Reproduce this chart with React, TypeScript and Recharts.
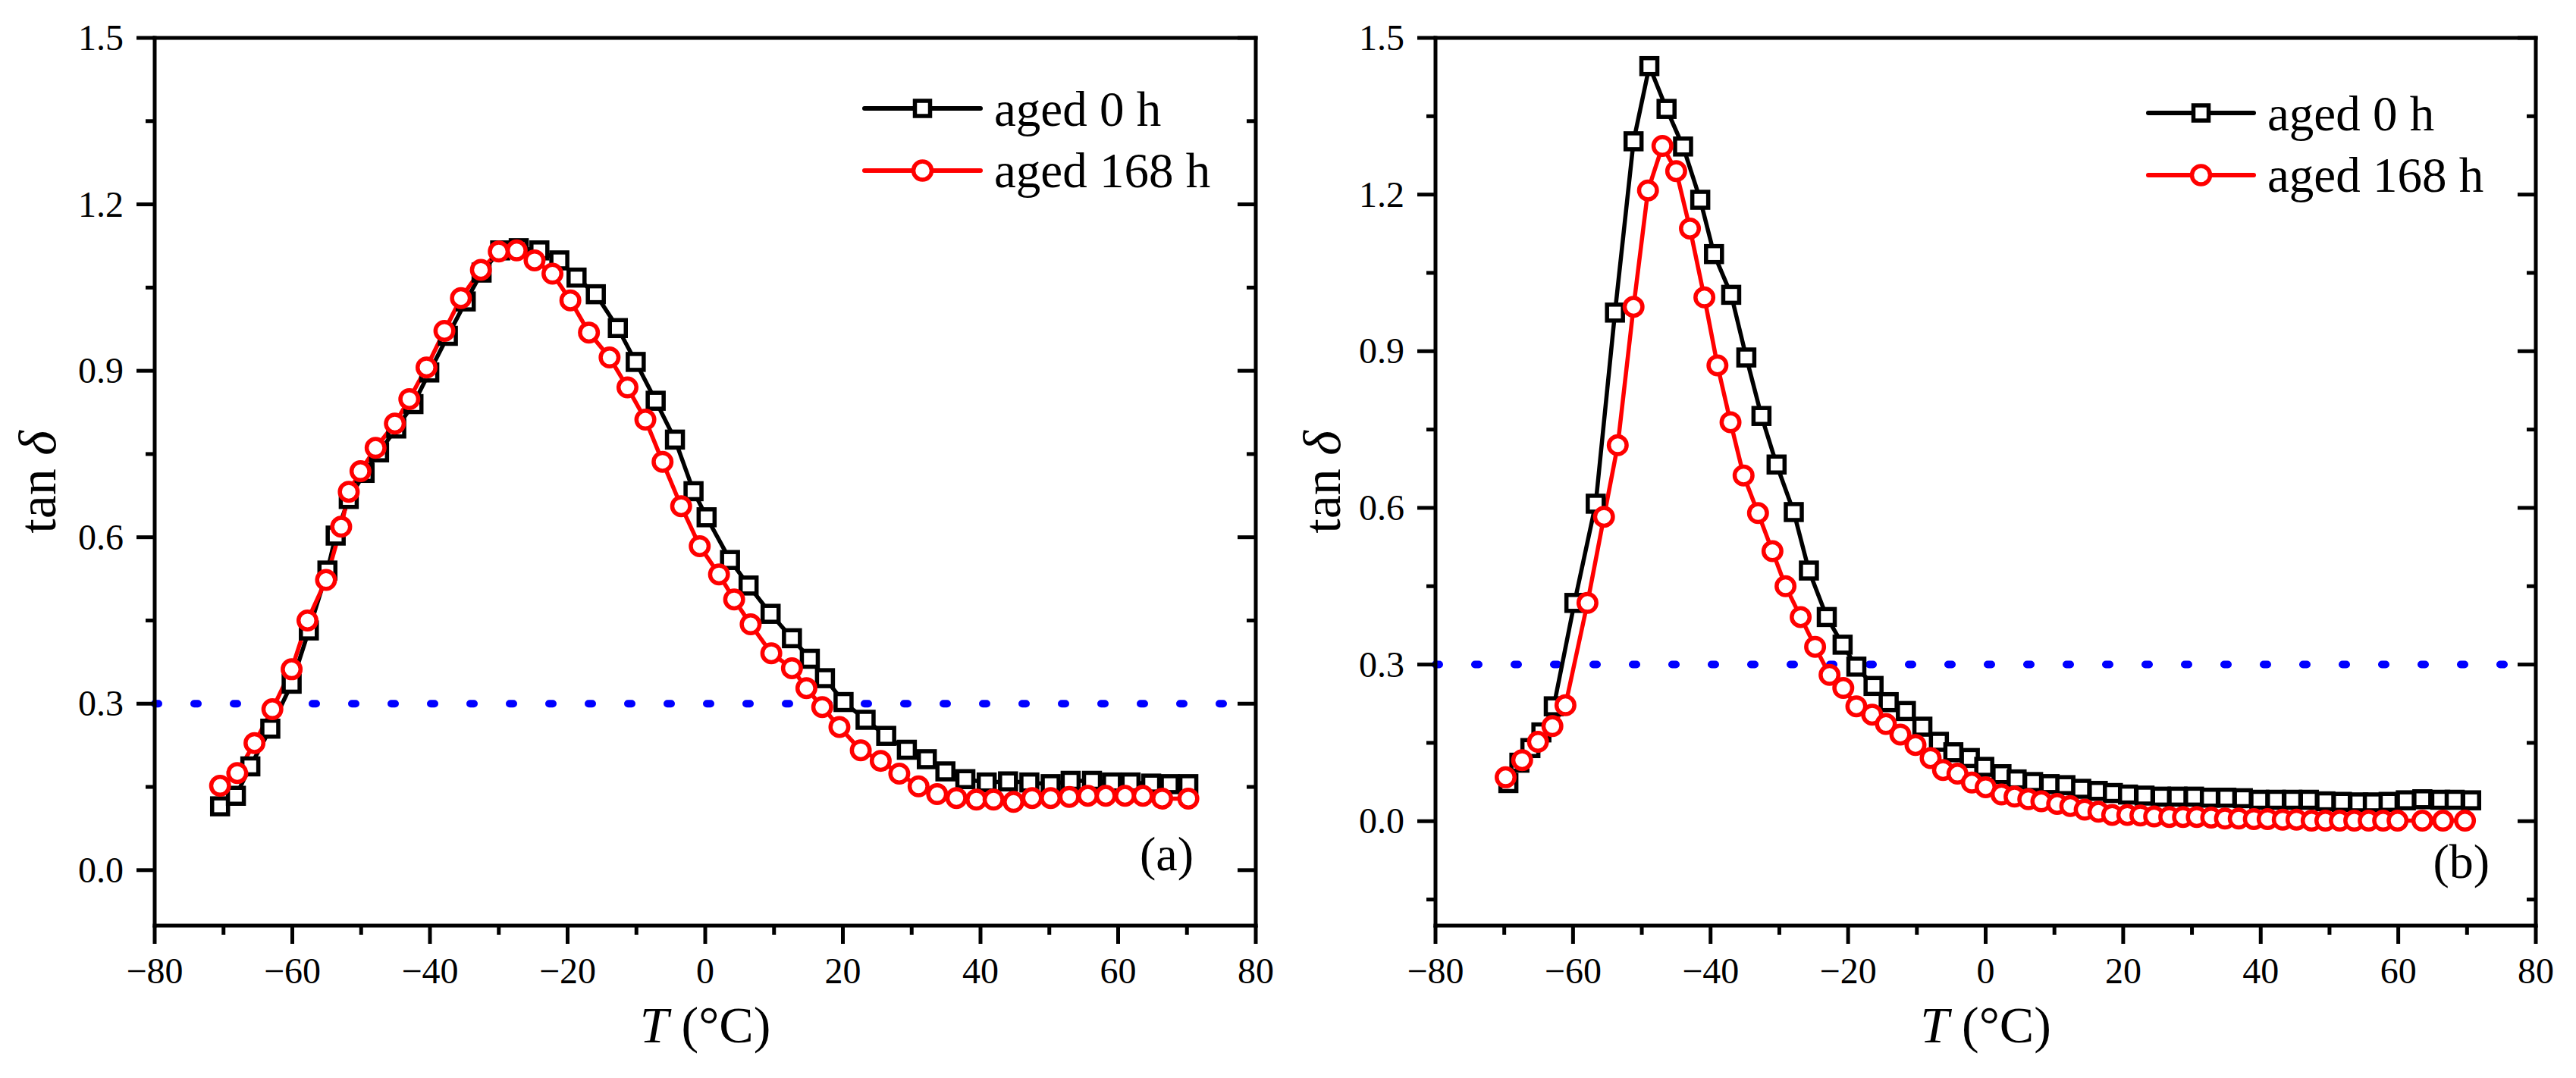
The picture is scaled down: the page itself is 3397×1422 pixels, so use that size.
import React from "react";
import { Label, Legend, Line, LineChart, ReferenceLine, XAxis, YAxis } from "recharts";

// ---- data ----
// panel (a)
const tempA0 = [-70.5, -68.2, -66.1, -63.2, -60.1, -57.6, -54.9, -53.7, -51.8, -49.5, -47.4, -44.9, -42.4, -40.1, -37.4, -34.8, -32.5, -29.8, -27.1, -24.1, -21.2, -18.7, -15.9, -12.7, -10.1, -7.2, -4.4, -1.7, 0.2, 3.6, 6.3, 9.5, 12.6, 15.2, 17.4, 20.1, 23.3, 26.3, 29.3, 32.2, 34.9, 37.8, 40.9, 44.0, 47.1, 50.2, 53.1, 56.2, 59.1, 61.8, 64.8, 67.5, 70.2];
const tanA0 = [0.115, 0.134, 0.187, 0.255, 0.336, 0.432, 0.540, 0.603, 0.669, 0.716, 0.753, 0.796, 0.840, 0.897, 0.963, 1.025, 1.077, 1.117, 1.121, 1.117, 1.099, 1.068, 1.038, 0.977, 0.916, 0.846, 0.776, 0.683, 0.636, 0.559, 0.513, 0.462, 0.418, 0.381, 0.346, 0.303, 0.271, 0.242, 0.217, 0.200, 0.178, 0.164, 0.158, 0.160, 0.158, 0.155, 0.161, 0.161, 0.158, 0.158, 0.156, 0.155, 0.155];
const tempA168 = [-70.5, -68.0, -65.5, -62.9, -60.1, -57.8, -55.1, -52.9, -51.8, -50.1, -47.9, -45.1, -43.0, -40.5, -37.9, -35.5, -32.6, -30.0, -27.4, -24.8, -22.2, -19.6, -16.9, -13.9, -11.3, -8.7, -6.2, -3.5, -0.8, 2.0, 4.2, 6.6, 9.6, 12.6, 14.7, 17.0, 19.5, 22.6, 25.5, 28.2, 31.0, 33.7, 36.5, 39.4, 41.9, 44.8, 47.5, 50.2, 52.9, 55.6, 58.2, 61.0, 63.6, 66.4, 70.2];
const tanA168 = [0.152, 0.175, 0.229, 0.290, 0.362, 0.450, 0.523, 0.619, 0.682, 0.719, 0.761, 0.805, 0.849, 0.906, 0.972, 1.031, 1.082, 1.115, 1.117, 1.099, 1.075, 1.027, 0.969, 0.924, 0.870, 0.812, 0.736, 0.656, 0.584, 0.533, 0.488, 0.443, 0.391, 0.364, 0.328, 0.294, 0.258, 0.216, 0.197, 0.174, 0.151, 0.137, 0.130, 0.127, 0.127, 0.123, 0.130, 0.130, 0.132, 0.134, 0.134, 0.134, 0.134, 0.129, 0.129];

// panel (b)
const tempB0 = [-69.4, -67.8, -66.2, -64.6, -62.8, -59.8, -56.7, -53.9, -51.2, -48.9, -46.4, -44.0, -41.5, -39.5, -37.0, -34.8, -32.6, -30.4, -27.9, -25.7, -23.1, -20.8, -18.8, -16.3, -14.1, -11.6, -9.2, -6.8, -4.7, -2.3, -0.2, 2.3, 4.5, 6.9, 9.3, 11.6, 13.9, 16.3, 18.5, 20.7, 23.1, 25.5, 27.9, 30.3, 32.6, 35.0, 37.4, 39.8, 42.2, 44.6, 47.0, 49.4, 51.8, 54.2, 56.3, 58.6, 61.1, 63.5, 66.1, 68.2, 70.6];
const tanB0 = [0.073, 0.112, 0.140, 0.170, 0.220, 0.418, 0.608, 0.974, 1.302, 1.446, 1.364, 1.292, 1.190, 1.086, 1.008, 0.888, 0.776, 0.683, 0.592, 0.480, 0.391, 0.338, 0.296, 0.259, 0.228, 0.211, 0.181, 0.152, 0.132, 0.121, 0.104, 0.090, 0.080, 0.075, 0.071, 0.069, 0.062, 0.058, 0.054, 0.051, 0.049, 0.047, 0.047, 0.047, 0.045, 0.045, 0.044, 0.041, 0.041, 0.041, 0.041, 0.038, 0.037, 0.036, 0.036, 0.037, 0.040, 0.042, 0.041, 0.041, 0.040];
const tempB168 = [-69.8, -67.4, -65.1, -63.0, -61.1, -57.9, -55.5, -53.5, -51.2, -49.1, -47.0, -45.0, -43.0, -40.9, -39.0, -37.1, -35.2, -33.1, -31.0, -29.1, -26.9, -24.8, -22.7, -20.7, -18.8, -16.5, -14.5, -12.4, -10.2, -8.0, -6.2, -4.1, -2.0, 0.0, 2.3, 4.2, 6.2, 8.1, 10.4, 12.3, 14.4, 16.4, 18.4, 20.6, 22.5, 24.5, 26.7, 28.7, 30.7, 32.8, 34.8, 36.8, 39.0, 41.0, 43.2, 45.2, 47.4, 49.4, 51.5, 53.6, 55.7, 57.8, 59.9, 63.5, 66.5, 69.7];
const tanB168 = [0.084, 0.117, 0.152, 0.182, 0.222, 0.418, 0.583, 0.720, 0.985, 1.208, 1.293, 1.245, 1.135, 1.003, 0.873, 0.764, 0.662, 0.590, 0.517, 0.450, 0.391, 0.334, 0.280, 0.255, 0.220, 0.204, 0.186, 0.166, 0.146, 0.121, 0.098, 0.091, 0.074, 0.065, 0.051, 0.047, 0.042, 0.038, 0.033, 0.029, 0.022, 0.018, 0.012, 0.012, 0.011, 0.009, 0.008, 0.008, 0.008, 0.007, 0.005, 0.005, 0.004, 0.004, 0.003, 0.003, 0.001, 0.001, 0.001, 0.001, 0.001, 0.001, 0.001, 0.001, 0.001, 0.001];

const seriesNames = ["aged 0 h", "aged 168 h"];
const thresholdTan = 0.3;

// ticks
const xTicks = [-80, -70, -60, -50, -40, -30, -20, -10, 0, 10, 20, 30, 40, 50, 60, 70, 80];
const xDomain = [-80, 80];
const yTicksA = [0, 0.15, 0.3, 0.45, 0.6, 0.75, 0.9, 1.05, 1.2, 1.35, 1.5];
const yTicksB = [-0.15, 0, 0.15, 0.3, 0.45, 0.6, 0.75, 0.9, 1.05, 1.2, 1.35, 1.5];
const yDomainA = [-0.1, 1.5];
const yDomainB = [-0.2, 1.5];

const FONT = "Liberation Serif, Times New Roman, serif";
const serif = { fontFamily: FONT };
const MAJOR = 24;
const MINOR = 12;
const PLOT_TOP = 50;
const PLOT_BOTTOM = 1221;
const H = 1422;
const SW = 5.5;

const rowsOf = (t: number[], v: number[]) => t.map((x, i) => ({ t: x, v: v[i] }));

const isMajorX = (v: number) => v % 20 === 0;
const isMajorY = (v: number) => Math.abs(v / 0.3 - Math.round(v / 0.3)) < 1e-6;
const fmtX = (v: number) => (v < 0 ? "\u2212" + Math.abs(v) : String(v));

// ---- tick renderers (tickSize/tickMargin = 0, so x/y sit on the axis line) ----
const BottomTick = (p: any) => {
    const v = p.payload.value;
    const major = isMajorX(v);
    return (
        <g>
            <line x1={p.x} x2={p.x} y1={p.y} y2={p.y + (major ? MAJOR : MINOR)} stroke="#000" strokeWidth={5} />
            {major && (
                <text x={p.x} y={p.y + 76} textAnchor="middle" fontSize={48} style={serif} fill="#000">
                    {fmtX(v)}
                </text>
            )}
        </g>
    );
};

const TopTick = (p: any) => {
    const major = isMajorX(p.payload.value);
    return <line x1={p.x} x2={p.x} y1={p.y} y2={p.y + (major ? MAJOR : MINOR)} stroke="#000" strokeWidth={5} />;
};

const LeftTick = (p: any) => {
    const v = p.payload.value;
    const major = isMajorY(v);
    return (
        <g>
            <line x1={p.x} x2={p.x - (major ? MAJOR : MINOR)} y1={p.y} y2={p.y} stroke="#000" strokeWidth={5} />
            {major && (
                <text x={p.x - 41} y={p.y + 16} textAnchor="end" fontSize={48} style={serif} fill="#000">
                    {v.toFixed(1)}
                </text>
            )}
        </g>
    );
};

const RightTick = (p: any) => {
    const major = isMajorY(p.payload.value);
    return <line x1={p.x} x2={p.x - (major ? MAJOR : MINOR)} y1={p.y} y2={p.y} stroke="#000" strokeWidth={5} />;
};

// dotted threshold line, round caps give the oval dots
const DottedShape = (p: any) => (
    <line x1={p.x1} y1={p.y1} x2={p.x2} y2={p.y2} stroke="#0000ff" strokeWidth={10} strokeDasharray="5 47" strokeLinecap="round" />
);

// ---- markers ----
const squareDot = (p: any) => {
    if (p.cx == null || p.cy == null) return <g key={`s${p.index}`} />;
    return <rect key={`s${p.index}`} x={p.cx - 10.5} y={p.cy - 10.5} width={21} height={21} fill="#fff" stroke="#000" strokeWidth={SW} />;
};

const circleDot = (p: any) => {
    if (p.cx == null || p.cy == null) return <circle key={`c${p.index}`} r={0} />;
    return <circle key={`c${p.index}`} cx={p.cx} cy={p.cy} r={11.75} fill="#fff" stroke="#ff0000" strokeWidth={SW} />;
};

const LegendBox = ({ lineLen }: { lineLen: number }) => (
    <svg width={540} height={170} style={{ overflow: "visible" }}>
        <line x1={10} x2={10 + lineLen} y1={43} y2={43} stroke="#000" strokeWidth={6} strokeLinecap="round" />
        <rect x={10 + lineLen / 2 - 10} y={33} width={20} height={20} fill="#fff" stroke="#000" strokeWidth={SW} />
        <text x={lineLen + 28} y={66} fontSize={65} style={serif} fill="#000">{seriesNames[0]}</text>
        <line x1={10} x2={10 + lineLen} y1={125} y2={125} stroke="#ff0000" strokeWidth={6} strokeLinecap="round" />
        <circle cx={10 + lineLen / 2} cy={125} r={12} fill="#fff" stroke="#ff0000" strokeWidth={SW} />
        <text x={lineLen + 28} y={147} fontSize={65} style={serif} fill="#000">{seriesNames[1]}</text>
    </svg>
);

interface PanelProps {
    width: number;
    plotLeft: number;
    plotWidth: number;
    yDomain: number[];
    yTicks: number[];
    data0: { t: number; v: number }[];
    data168: { t: number; v: number }[];
    legendLeft: number;
    legendTop: number;
    legendLine: number;
    yTitleX: number;
}

const axisLineStyle = { stroke: "#000", strokeWidth: 5, strokeLinecap: "square" as const };

function Panel({ width, plotLeft, plotWidth, yDomain, yTicks, data0, data168, legendLeft, legendTop, legendLine, yTitleX }: PanelProps) {
    // every axis is 1px thick, so the margins are one pixel short of the plot edges
    const margin = {
        top: PLOT_TOP - 1,
        bottom: H - PLOT_BOTTOM - 1,
        left: plotLeft - 1,
        right: width - plotLeft - plotWidth - 1,
    };
    const centerX = plotLeft + plotWidth / 2;
    return (
        <LineChart width={width} height={H} margin={margin} style={serif}>
            <XAxis
                type="number"
                dataKey="t"
                domain={xDomain}
                ticks={xTicks}
                interval={0}
                height={1}
                tickSize={0}
                tickMargin={0}
                tickLine={false}
                tick={BottomTick}
                axisLine={axisLineStyle}
                allowDataOverflow
            >
                <Label
                    content={() => (
                        <text x={centerX} y={1375} textAnchor="middle" fontSize={68} style={serif} fill="#000">
                            <tspan fontStyle="italic">T</tspan> (°C)
                        </text>
                    )}
                />
            </XAxis>
            <XAxis
                xAxisId="top"
                orientation="top"
                type="number"
                domain={xDomain}
                ticks={xTicks}
                interval={0}
                height={1}
                tickSize={0}
                tickMargin={0}
                tickLine={false}
                tick={TopTick}
                axisLine={axisLineStyle}
                allowDataOverflow
            />
            <YAxis
                type="number"
                domain={yDomain}
                ticks={yTicks}
                interval={0}
                width={1}
                tickSize={0}
                tickMargin={0}
                tickLine={false}
                tick={LeftTick}
                axisLine={axisLineStyle}
                allowDataOverflow
            >
                <Label
                    content={() => (
                        <text
                            x={yTitleX}
                            y={636}
                            transform={`rotate(-90, ${yTitleX}, 636)`}
                            textAnchor="middle"
                            fontSize={70}
                            style={serif}
                            fill="#000"
                        >
                            tan <tspan fontStyle="italic">δ</tspan>
                        </text>
                    )}
                />
            </YAxis>
            <YAxis
                yAxisId="right"
                orientation="right"
                type="number"
                domain={yDomain}
                ticks={yTicks}
                interval={0}
                width={1}
                tickSize={0}
                tickMargin={0}
                tickLine={false}
                tick={RightTick}
                axisLine={axisLineStyle}
                allowDataOverflow
            />
            <ReferenceLine y={thresholdTan} shape={DottedShape} />
            <Line
                data={data0}
                dataKey="v"
                name={seriesNames[0]}
                stroke="#000"
                strokeWidth={SW}
                dot={squareDot}
                activeDot={false}
                isAnimationActive={false}
            />
            <Line
                data={data168}
                dataKey="v"
                name={seriesNames[1]}
                stroke="#ff0000"
                strokeWidth={SW}
                dot={circleDot}
                activeDot={false}
                isAnimationActive={false}
            />
            <Legend
                layout="vertical"
                align="center"
                verticalAlign="middle"
                content={() => <LegendBox lineLen={legendLine} />}
                wrapperStyle={{ left: legendLeft, top: legendTop, width: 540, height: 170 }}
            />
        </LineChart>
    );
}

export default function App() {
    return (
        <div style={{ position: "absolute", left: 0, top: 0, width: 3397, height: H, background: "#fff", fontFamily: FONT }}>
            <div style={{ position: "absolute", left: 0, top: 0 }}>
                <Panel
                    width={1700}
                    plotLeft={204}
                    plotWidth={1452}
                    yDomain={yDomainA}
                    yTicks={yTicksA}
                    data0={rowsOf(tempA0, tanA0)}
                    data168={rowsOf(tempA168, tanA168)}
                    legendLeft={1130}
                    legendTop={100}
                    legendLine={153}
                    yTitleX={73}
                />
            </div>
            <div style={{ position: "absolute", left: 1700, top: 0 }}>
                <Panel
                    width={1697}
                    plotLeft={193}
                    plotWidth={1451}
                    yDomain={yDomainB}
                    yTicks={yTicksB}
                    data0={rowsOf(tempB0, tanB0)}
                    data168={rowsOf(tempB168, tanB168)}
                    legendLeft={1123}
                    legendTop={106}
                    legendLine={139}
                    yTitleX={67}
                />
            </div>
            <svg width={3397} height={H} style={{ position: "absolute", left: 0, top: 0, pointerEvents: "none" }}>
                <text x={1574} y={1148} textAnchor="end" fontSize={64} style={serif} fill="#000">(a)</text>
                <text x={3283} y={1158} textAnchor="end" fontSize={64} style={serif} fill="#000">(b)</text>
            </svg>
        </div>
    );
}
